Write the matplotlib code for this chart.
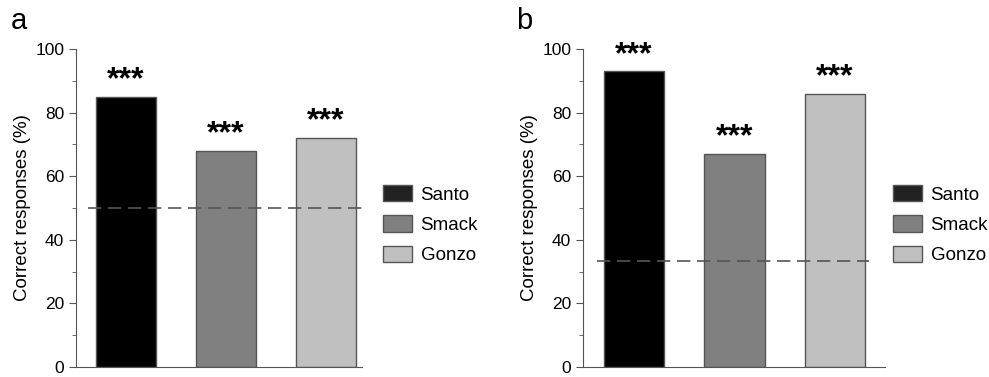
import matplotlib
matplotlib.use("Agg")
from matplotlib import pyplot as plt
from matplotlib.ticker import MultipleLocator

plt.rcParams['font.family'] = ['Liberation Sans', 'DejaVu Sans']

# data
monkeys = ['Santo', 'Smack', 'Gonzo']
correct_a = [85, 68, 72]
correct_b = [93, 67, 86]
chance_a = 50
chance_b = 33.3
stars = ['***', '***', '***']

bar_colors = ['#000000', '#808080', '#c0c0c0']
legend_colors = ['#222222', '#808080', '#c0c0c0']
edge = '#555555'

fig = plt.figure(figsize=(9.89, 3.77), dpi=100)

def panel(rect, vals, chance, xlim, dash_from, dash_to, letter, letter_x, leg_x):
    ax = fig.add_axes(rect)
    x = range(len(vals))
    ax.bar(x, vals, width=0.6, color=bar_colors, edgecolor=edge, linewidth=1)
    for i, v in enumerate(vals):
        ax.annotate(stars[i], (i, v), xytext=(0, 1), textcoords='offset points',
                    ha='center', va='bottom', fontsize=23, fontweight='bold')
    ax.plot([dash_from, dash_to], [chance, chance], ls=(0, (8, 4)), color='#555555', lw=1.2, zorder=3)
    ax.set_xlim(*xlim)
    ax.set_ylim(0, 100)
    ax.yaxis.set_major_locator(MultipleLocator(20))
    ax.yaxis.set_minor_locator(MultipleLocator(10))
    ax.set_xticks([])
    for s in ['top', 'right']:
        ax.spines[s].set_visible(False)
    for s in ['left', 'bottom']:
        ax.spines[s].set_color('#555555')
    ax.tick_params(axis='y', which='major', length=5, color='#555555', labelsize=12.5)
    ax.tick_params(axis='y', which='minor', length=3, color='#555555')
    ax.set_ylabel('Correct responses (%)', fontsize=13.5, labelpad=3)
    fig.text(letter_x, 0.945, letter, fontsize=21, va='center')
    handles = [plt.Rectangle((0, 0), 1, 1, fc=c, ec=edge) for c in legend_colors]
    fig.legend(handles, monkeys, frameon=False, fontsize=13.5, loc='upper left',
               bbox_to_anchor=(leg_x, 1 - 185 / 377), borderpad=0, borderaxespad=0,
               handlelength=1.55, handleheight=0.97, labelspacing=0.62, handletextpad=0.45)
    return ax

ax_a = panel([0.0768, 0.0265, 0.289, 0.8435], correct_a, chance_a,
             (-0.5, 2.36), -0.38, 2.36, 'a', 0.011, 383 / 989)
ax_b = panel([0.5895, 0.0265, 0.3055, 0.8435], correct_b, chance_b,
             (-0.507, 2.5), -0.37, 2.34, 'b', 0.522, 893 / 989)

fig.savefig('out.png', dpi=100)
